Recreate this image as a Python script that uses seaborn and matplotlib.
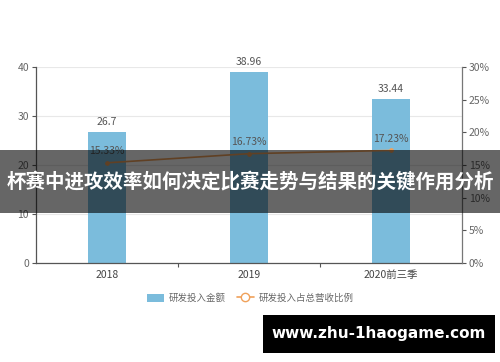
import matplotlib
matplotlib.use("Agg")
import matplotlib.pyplot as plt
import seaborn as sns
import pandas as pd
from matplotlib.patches import Rectangle
from matplotlib.lines import Line2D
from matplotlib.patches import Patch
from matplotlib.ticker import MultipleLocator, FixedLocator, FuncFormatter

categories = ["2018", "2019", "2020前三季"]
amounts = [26.7, 38.96, 33.44]
ratios = [15.33, 16.73, 17.23]
bar_name = "研发投入金额"
line_name = "研发投入占总营收比例"
banner_text = "杯赛中进攻效率如何决定比赛走势与结果的关键作用分析"
site_text = "www.zhu-1haogame.com"

sns.set_theme(style="white")
plt.rcParams['font.family'] = ['Noto Sans CJK SC', 'DejaVu Sans']

df = pd.DataFrame({"cat": categories, "amount": amounts, "ratio": ratios})

fig = plt.figure(figsize=(5, 3.62), dpi=100)
ax = fig.add_axes([0.072, 0.2735, 0.852, 0.5415])
bar_color = "#7bbcdc"
line_color = "#f0a15a"
grey = "#666666"

sns.barplot(data=df, x="cat", y="amount", ax=ax, color=bar_color, width=0.27,
            saturation=1, edgecolor="none")
ax.set_xlim(-0.5, 2.5)
ax.set_ylim(0, 40)
ax.yaxis.set_major_locator(MultipleLocator(10))
ax.grid(axis="y", color="#e8e8e8", linewidth=0.8)
ax.set_axisbelow(True)
ax.set_xlabel("")
ax.set_ylabel("")
for c, v in zip(range(len(categories)), amounts):
    ax.text(c, v + 1.0, f"{v:g}", ha="center", va="bottom", fontsize=7.5, color="#555555")

for s in ["top", "right"]:
    ax.spines[s].set_visible(False)
for s in ["left", "bottom"]:
    ax.spines[s].set_color("#555555")
    ax.spines[s].set_linewidth(0.9)
ax.tick_params(axis="y", left=True, length=3, width=0.8, color="#555555",
               labelsize=7.5, labelcolor=grey, pad=2)
ax.tick_params(axis="x", which="major", length=0, labelsize=7.5, labelcolor="#444444", pad=5)
ax.xaxis.set_minor_locator(FixedLocator([0.5, 1.5]))
ax.tick_params(axis="x", which="minor", bottom=True, length=3, width=0.8, color="#555555")

ax2 = ax.twinx()
sns.pointplot(data=df, x="cat", y="ratio", ax=ax2, color=line_color,
              markers="o", markersize=2.5, linewidth=1.2)
ax2.set_xlim(-0.5, 2.5)
ax2.set_ylim(0, 30)
ax2.yaxis.set_major_locator(MultipleLocator(5))
ax2.yaxis.set_major_formatter(FuncFormatter(lambda v, p: f"{v:.0f}%"))
ax2.set_ylabel("")
ax2.set_xlabel("")
for s in ["top", "left", "bottom"]:
    ax2.spines[s].set_visible(False)
ax2.spines["right"].set_color("#777777")
ax2.spines["right"].set_linewidth(0.9)
ax2.tick_params(axis="y", right=True, length=3, width=0.8, color="#555555",
                labelsize=7.5, labelcolor=grey, pad=2)
for c, v in zip(range(len(categories)), ratios):
    ax2.text(c, v + 1.0, f"{v:.2f}%", ha="center", va="bottom", fontsize=7.5, color="#555555")

handles = [Patch(facecolor=bar_color, edgecolor="none"),
           Line2D([0], [0], color=line_color, marker="o", markerfacecolor="white",
                  markeredgecolor=line_color, markersize=6, linewidth=1.2)]
fig.legend(handles, [bar_name, line_name], loc="center", bbox_to_anchor=(0.5, 0.176),
           ncol=2, frameon=False, fontsize=6.8, labelcolor=grey, handlelength=1.8,
           handleheight=1.0, columnspacing=1.2, handletextpad=0.5)

# overlay banner
fig.patches.append(Rectangle((0, 0.4116), 1, 0.174, transform=fig.transFigure,
                             facecolor="black", alpha=0.6, edgecolor="none", zorder=10))
fig.text(0.5, 0.5, banner_text, ha="center", va="center", fontsize=14,
         fontweight="bold", color="white", zorder=11)

# site watermark
fig.patches.append(Rectangle((0.526, 0.025), 0.464, 0.105, transform=fig.transFigure,
                             facecolor="black", edgecolor="none", zorder=10))
fig.text(0.758, 0.0775, site_text, ha="center", va="center", fontsize=11,
         fontweight="bold", color="white", family="DejaVu Sans", zorder=11)

fig.savefig("out.png", dpi=100)
